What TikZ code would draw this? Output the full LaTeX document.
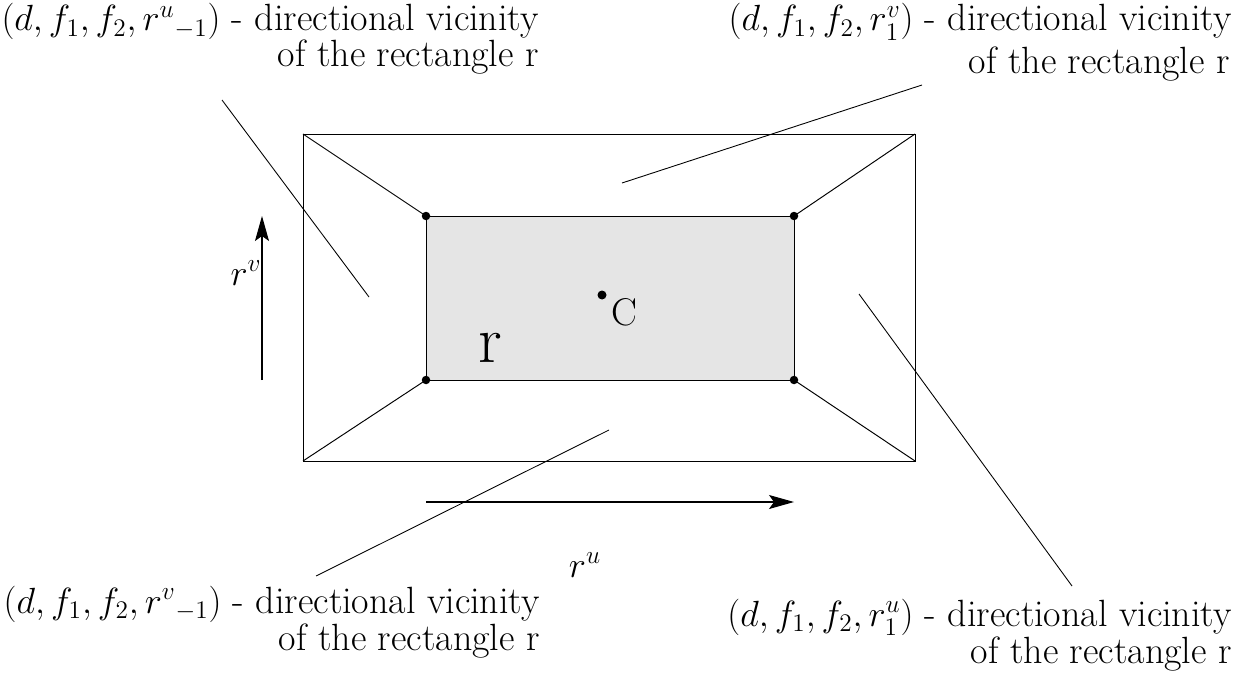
\documentclass[tikz,border=0pt]{standalone}
\usepackage{tikz}
\usetikzlibrary{arrows.meta}
\definecolor{rectfill}{RGB}{229,229,229}
\newcommand{\mth}[1]{{\fontsize{20.3}{24}\selectfont$#1$}}

\begin{document}
\begin{tikzpicture}[
    x=0.02cm, y=-0.02cm,
    edge/.style={line width=0.55pt},
    lead/.style={line width=0.5pt},
    vertex/.style={circle, fill=black, inner sep=0pt, minimum size=0.17cm},
    arrow/.style={-{Stealth[length=0.5cm, width=0.28cm, inset=0.1cm]}, line width=0.6pt},
    lbl/.style={anchor=base east, inner sep=0pt, font=\fontsize{21.6}{26}\selectfont}
]
    \useasboundingbox (0,0) rectangle (1244,686);

    % Outer and inner rectangle
    \coordinate (o1) at (303,134);
    \coordinate (o2) at (915,134);
    \coordinate (o3) at (915,461);
    \coordinate (o4) at (303,461);
    \coordinate (i1) at (426,216);
    \coordinate (i2) at (794,216);
    \coordinate (i3) at (794,380);
    \coordinate (i4) at (426,380);
    \draw[edge] (o1) rectangle (o3);
    \draw[edge, fill=rectfill] (i1) rectangle (i3);
    \draw[edge] (o1) -- (i1);
    \draw[edge] (o2) -- (i2);
    \draw[edge] (o3) -- (i3);
    \draw[edge] (o4) -- (i4);
    \node[vertex] (d1) at (i1) {};
    \node[vertex] (d2) at (i2) {};
    \node[vertex] (d3) at (i3) {};
    \node[vertex] (d4) at (i4) {};

    % Centre and name
    \node[vertex, minimum size=0.18cm] (ctr) at (602,295) {};
    \node[font=\fontsize{22}{26}\selectfont] (clbl) at (624,312) {C};
    \node[font=\fontsize{38}{42}\selectfont] (rname) at (490,348) {r};

    % Directions
    \coordinate (vs) at (262,380);
    \coordinate (ve) at (262,216);
    \coordinate (us) at (426,502);
    \coordinate (ue) at (794,502);
    \draw[arrow] (vs) -- (ve);
    \draw[arrow] (us) -- (ue);
    \node (rv) at (246,273) {\mth{r^v}};
    \node (ru) at (585,565) {\mth{r^u}};

    % Labels
    \node[lbl] (tl1) at (539,31) {\mth{(d,f_1,f_2,{r^u}_{-1})} - directional vicinity};
    \node[lbl] (tl2) at (539,67) {of the rectangle r};
    \node[lbl] (tr1) at (1232,31) {\mth{(d,f_1,f_2,r_1^v)} - directional vicinity};
    \node[lbl] (tr2) at (1230,74) {of the rectangle r};
    \node[lbl] (bl1) at (540,613) {\mth{(d,f_1,f_2,{r^v}_{-1})} - directional vicinity};
    \node[lbl] (bl2) at (540,650) {of the rectangle r};
    \node[lbl] (br1) at (1232,626) {\mth{(d,f_1,f_2,r_1^u)} - directional vicinity};
    \node[lbl] (br2) at (1232,663) {of the rectangle r};

    % Leaders
    \coordinate (tla) at (222,100);
    \coordinate (tlb) at (369,297);
    \coordinate (tra) at (922,85);
    \coordinate (trb) at (622,183);
    \coordinate (bla) at (316,576);
    \coordinate (blb) at (609,430);
    \coordinate (bra) at (1072,586);
    \coordinate (brb) at (859,294);
    \draw[lead] (tla) -- (tlb);
    \draw[lead] (tra) -- (trb);
    \draw[lead] (bla) -- (blb);
    \draw[lead] (bra) -- (brb);
\end{tikzpicture}
\end{document}
